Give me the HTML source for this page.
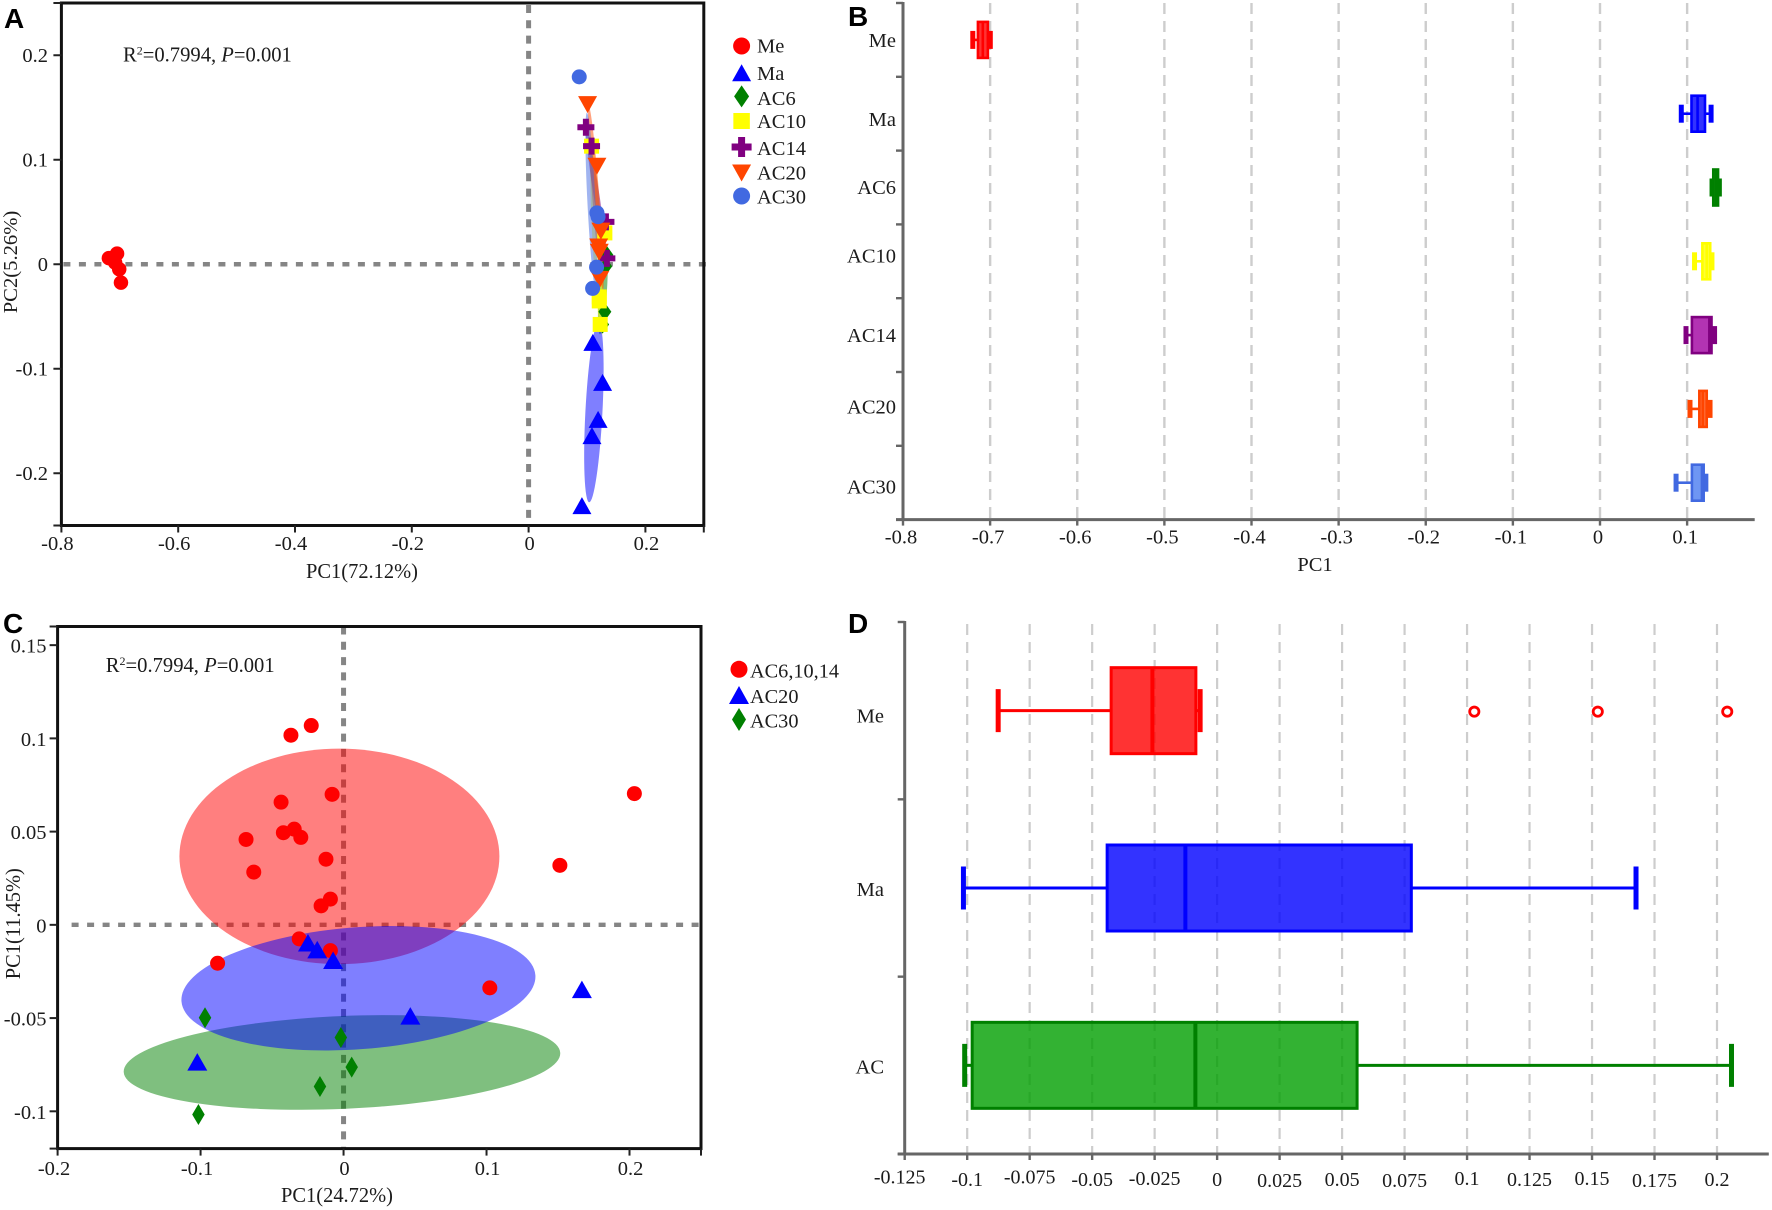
<!DOCTYPE html>
<html lang="en">
<head>
<meta charset="utf-8">
<title>PCoA and PC1 box plots</title>
<style>
html,body{margin:0;padding:0;background:#fff;width:1772px;height:1210px;overflow:hidden}
svg{display:block}
text{font-family:"Liberation Serif",serif;fill:#1c1c1c}
.panel-letter{font-family:"Liberation Sans",sans-serif;font-weight:700;font-size:28px;fill:#000}
</style>
</head>
<body>
<svg id="fig" xmlns="http://www.w3.org/2000/svg" width="1772" height="1210" viewBox="0 0 1772 1210">
<rect width="1772" height="1210" fill="#fff"/>
<text class="panel-letter" x="4" y="28">A</text>
<text class="panel-letter" x="848" y="26">B</text>
<text class="panel-letter" x="3" y="633">C</text>
<text class="panel-letter" x="848" y="633">D</text>
<g id="panelA"></g>
<g id="panelB"></g>
<g id="panelC"></g>
<g id="panelD"></g>
</svg>
<script>
// ---------- Panel A data ----------
const aXTicks = [-0.8, -0.6, -0.4, -0.2, 0, 0.2];
const aYTicks = [0.2, 0.1, 0, -0.1, -0.2];
const aGroups = ['Me', 'Ma', 'AC6', 'AC10', 'AC14', 'AC20', 'AC30'];
const aMeX = [-0.7187, -0.7047, -0.708, -0.701, -0.698];
const aMeY = [0.0059, 0.0102, 0.0015, -0.0048, -0.0176];
const aMaX = [0.110, 0.1267, 0.119, 0.1085, 0.0913];
const aMaY = [-0.0748, -0.113, -0.1485, -0.164, -0.231];
const aAC6X = [0.134, 0.132, 0.1306, 0.1267];
const aAC6Y = [0.009, -0.002, -0.0455, -0.0576];
const aAC10X = [0.1078, 0.1306, 0.121, 0.121, 0.1226];
const aAC10Y = [0.113, 0.030, -0.0313, -0.0351, -0.0576];
const aAC14X = [0.0981, 0.1078, 0.1324, 0.134];
const aAC14Y = [0.1311, 0.113, 0.0406, 0.0056];
const aAC20X = [0.101, 0.117, 0.1238, 0.12, 0.121, 0.122];
const aAC20Y = [0.1528, 0.0938, 0.0317, 0.0165, 0.0115, -0.0145];
const aAC30X = [0.0867, 0.117, 0.119, 0.1164, 0.1096];
const aAC30Y = [0.1793, 0.0492, 0.0455, -0.0028, -0.0231];
const aHullX = [0.1272, 0.117, 0.1161, 0.1152, 0.1075, 0.1118];
const aHullY = [-0.026, 0.0237, 0.0668, 0.0634, 0.0605, -0.1418];
const aHullLength = [0.0411, 0.0909, 0.065, 0.0878, 0.0847, 0.0861];
const aHullWidth = [0.0068, 0.0077, 0.005, 0.006, 0.0069, 0.0146];
const aHullTilt = [4, -3, -8.8, -4.4, -2.9, 3];
const aHullGroup = ['AC6', 'AC10', 'AC14', 'AC20', 'AC30', 'Ma'];

// ---------- Panel B data ----------
const bXTicks = [-0.8, -0.7, -0.6, -0.5, -0.4, -0.3, -0.2, -0.1, 0, 0.1];
const bGroups = ['Me', 'Ma', 'AC6', 'AC10', 'AC14', 'AC20', 'AC30'];
const bWhiskerLow = [-0.7199, 0.0933, 0.1286, 0.1085, 0.0987, 0.1033, 0.0873];
const bQ1 = [-0.714, 0.105, 0.130, 0.1175, 0.1055, 0.114, 0.1055];
const bMedian = [-0.7084, 0.112, 0.133, 0.1225, 0.1255, 0.118, 0.117];
const bQ3 = [-0.7026, 0.1205, 0.1355, 0.1265, 0.128, 0.1225, 0.119];
const bWhiskerHigh = [-0.6998, 0.1275, 0.137, 0.1285, 0.1315, 0.1263, 0.1215];

// ---------- Panel C data ----------
const cXTicks = [-0.2, -0.1, 0, 0.1, 0.2];
const cYTicks = [0.15, 0.1, 0.05, 0, -0.05, -0.1];
const cAC61014X = [-0.0226, -0.0368, -0.008, -0.0437, 0.2034, -0.0421, -0.0345, -0.0299, -0.0682, -0.0123, -0.0628, 0.1513, -0.0092, -0.0157, -0.031, -0.0881, -0.0092, 0.1023];
const cAC61014Y = [0.1069, 0.1017, 0.07, 0.0658, 0.0704, 0.0494, 0.0513, 0.0469, 0.0458, 0.0352, 0.0283, 0.0319, 0.0138, 0.0102, -0.0075, -0.0206, -0.0138, -0.0338];
const cAC20X = [-0.0249, -0.0184, -0.0073, 0.1667, 0.0467, -0.1023];
const cAC20Y = [-0.0096, -0.0133, -0.019, -0.0346, -0.0488, -0.0735];
const cAC30X = [-0.0969, -0.0019, 0.0057, -0.0165, -0.1015];
const cAC30Y = [-0.0498, -0.0604, -0.0763, -0.0867, -0.1017];
const cEllipseX = [-0.0011, -0.0029, 0.0104];
const cEllipseY = [-0.0738, 0.0367, -0.034];
const cEllipseRx = [0.1528, 0.1119, 0.1241];
const cEllipseRy = [0.0249, 0.0578, 0.0327];
const cEllipseTilt = [-2.5, 0, -4.25];

// ---------- Panel D data ----------
const dXTicks = [-0.125, -0.1, -0.075, -0.05, -0.025, 0, 0.025, 0.05, 0.075, 0.1, 0.125, 0.15, 0.175, 0.2];
const dGroups = ['Me', 'Ma', 'AC'];
const dWhiskerLow = [-0.0876, -0.1015, -0.101];
const dQ1 = [-0.0424, -0.044, -0.098];
const dMedian = [-0.0259, -0.0127, -0.0087];
const dQ3 = [-0.0085, 0.0777, 0.056];
const dWhiskerHigh = [-0.0068, 0.1676, 0.2058];
const dOutliersMe = [0.1029, 0.1523, 0.2041];

// ---------- Styling and layout (not data) ----------
const COLORS = {Me:'#ff0000', Ma:'#0000ff', AC6:'#008000', AC10:'#ffff00', AC14:'#800080', AC20:'#ff4500', AC30:'#4169e1', AC:'#008000'};
const FILLS = {Me:'#ff0000', Ma:'#0000ff', AC6:'#008000', AC10:'#ffff00', AC14:'#a000a0', AC20:'#ff4500', AC30:'#4a7cf0', AC:'#009f00'};
const NS = 'http://www.w3.org/2000/svg';
const AXIS_GRAY = '#666666';
const GRID_GRAY = '#cdcdcd';
const DASH_GRAY = '#858585';

function mk(parent, tag, attrs, text) {
  const el = document.createElementNS(NS, tag);
  for (const k in attrs) el.setAttribute(k, attrs[k]);
  if (text !== undefined) el.textContent = text;
  parent.appendChild(el);
  return el;
}
function scale(d0, d1, r0, r1) {
  return v => r0 + (v - d0) * (r1 - r0) / (d1 - d0);
}
function marker(parent, shape, cx, cy, s, color) {
  let el;
  if (shape === 'circle') {
    el = mk(parent, 'circle', {cx: cx, cy: cy, r: s.w / 2, fill: color});
  } else if (shape === 'triangle') {
    el = mk(parent, 'polygon', {points: [cx, cy - s.h / 2, cx + s.w / 2, cy + s.h / 2, cx - s.w / 2, cy + s.h / 2].join(' '), fill: color});
  } else if (shape === 'invtriangle') {
    el = mk(parent, 'polygon', {points: [cx - s.w / 2, cy - s.h / 2, cx + s.w / 2, cy - s.h / 2, cx, cy + s.h / 2].join(' '), fill: color});
  } else if (shape === 'diamond') {
    el = mk(parent, 'polygon', {points: [cx, cy - s.h / 2, cx + s.w / 2, cy, cx, cy + s.h / 2, cx - s.w / 2, cy].join(' '), fill: color});
  } else if (shape === 'square') {
    el = mk(parent, 'rect', {x: cx - s.w / 2, y: cy - s.h / 2, width: s.w, height: s.h, fill: color});
  } else {
    const a = s.w / 2, t = s.t / 2;
    el = mk(parent, 'polygon', {points: [cx - t, cy - a, cx + t, cy - a, cx + t, cy - t, cx + a, cy - t, cx + a, cy + t, cx + t, cy + t, cx + t, cy + a, cx - t, cy + a, cx - t, cy + t, cx - a, cy + t, cx - a, cy - t, cx - t, cy - t].join(' '), fill: color});
  }
  return el;
}
function drawBox(parent, group, x, yc, low, q1, med, q3, high, boxH, capH, sw, capW, medW) {
  const color = COLORS[group];
  const g = mk(parent, 'g', {});
  
  
  const w1 = mk(g, 'line', {x1: x(low), x2: x(q1), y1: yc, y2: yc, stroke: color, 'stroke-width': sw});
  
  
  const w2 = mk(g, 'line', {x1: x(q3), x2: x(high), y1: yc, y2: yc, stroke: color, 'stroke-width': sw});
  
  
  const c1 = mk(g, 'line', {x1: x(low), x2: x(low), y1: yc - capH / 2, y2: yc + capH / 2, stroke: color, 'stroke-width': capW});
  
  
  const c2 = mk(g, 'line', {x1: x(high), x2: x(high), y1: yc - capH / 2, y2: yc + capH / 2, stroke: color, 'stroke-width': capW});
  
  
  const r = mk(g, 'rect', {x: x(q1), y: yc - boxH / 2, width: x(q3) - x(q1), height: boxH, fill: FILLS[group], 'fill-opacity': 0.8, stroke: color, 'stroke-width': sw});
  
  
  const m = mk(g, 'line', {x1: x(med), x2: x(med), y1: yc - boxH / 2, y2: yc + boxH / 2, stroke: color, 'stroke-width': medW});
  
  
}

// ---------- Panel A ----------
(function () {
  const p = document.getElementById('panelA');
  const L = 61.4, R = 703.8, T = 3, B = 525.5;
  const x = scale(-0.8, 0.3, L, R), y = scale(-0.25, 0.25, B, T);

  const v0 = mk(p, 'line', {x1: x(0), x2: x(0), y1: T + 2, y2: B, stroke: DASH_GRAY, 'stroke-width': 5, 'stroke-dasharray': '8 7.3'});
  
  
  const h0 = mk(p, 'line', {x1: L + 2, x2: R + 4, y1: y(0), y2: y(0), stroke: DASH_GRAY, 'stroke-width': 4.4, 'stroke-dasharray': '7 8.5'});
  
  

  aHullGroup.forEach((name, i) => {
    const cx = x(aHullX[i]), cy = y(aHullY[i]);
    const e = mk(p, 'ellipse', {cx: cx, cy: cy,
      rx: (x(aHullWidth[i]) - x(0)), ry: (y(0) - y(aHullLength[i])),
      fill: COLORS[name], 'fill-opacity': 0.5,
      transform: 'rotate(' + aHullTilt[i] + ' ' + cx + ' ' + cy + ')'});
    
    
  });

  const frame = mk(p, 'rect', {x: L, y: T, width: R - L, height: B - T, fill: 'none', stroke: '#111', 'stroke-width': 3});
  
  

  [-0.8, -0.6, -0.4, -0.2, 0, 0.2, 0.3].forEach(v => {
    const t = mk(p, 'line', {x1: x(v), x2: x(v), y1: B, y2: B + 7, stroke: '#222', 'stroke-width': 2});
    
    
  });
  [0.25, 0.2, 0.1, 0, -0.1, -0.2, -0.25].forEach(v => {
    const t = mk(p, 'line', {x1: L - 8, x2: L, y1: y(v), y2: y(v), stroke: '#222', 'stroke-width': 2});
    
    
  });
  aXTicks.forEach(v => {
    const t = mk(p, 'text', {x: x(v) - (v < 0 ? 4 : -1), y: 550, 'text-anchor': 'middle', 'font-size': 20.5}, String(v));
    
    
  });
  aYTicks.forEach(v => {
    const t = mk(p, 'text', {x: 48, y: y(v) + 6.7, 'text-anchor': 'end', 'font-size': 20.5}, String(v));
    
    
  });

  const xt = mk(p, 'text', {x: 362, y: 578, 'text-anchor': 'middle', 'font-size': 21, textLength: 112, lengthAdjust: 'spacingAndGlyphs'}, 'PC1(72.12%)');
  
  
  const yt = mk(p, 'text', {transform: 'translate(17 262) rotate(-90)', 'text-anchor': 'middle', 'font-size': 20.5, textLength: 102.6, lengthAdjust: 'spacingAndGlyphs'}, 'PC2(5.26%)');
  
  

  const stat = mk(p, 'text', {x: 123, y: 61.7, 'font-size': 20.6});
  
  
  mk(stat, 'tspan', {}, 'R');
  mk(stat, 'tspan', {dy: -7, 'font-size': 12}, '2');
  mk(stat, 'tspan', {dy: 7}, '=0.7994, ');
  mk(stat, 'tspan', {'font-style': 'italic'}, 'P');
  mk(stat, 'tspan', {}, '=0.001');

  const shapes = {Me:'circle', Ma:'triangle', AC6:'diamond', AC10:'square', AC14:'plus', AC20:'invtriangle', AC30:'circle'};
  const sizes = {Me:{w:14.5,h:14.5}, Ma:{w:19,h:17}, AC6:{w:13,h:18}, AC10:{w:15,h:15}, AC14:{w:17,h:17,t:6}, AC20:{w:19,h:17}, AC30:{w:15,h:15}};
  const xs = {Me:aMeX, Ma:aMaX, AC6:aAC6X, AC10:aAC10X, AC14:aAC14X, AC20:aAC20X, AC30:aAC30X};
  const ys = {Me:aMeY, Ma:aMaY, AC6:aAC6Y, AC10:aAC10Y, AC14:aAC14Y, AC20:aAC20Y, AC30:aAC30Y};
  ['AC6', 'AC10', 'AC14', 'Ma', 'Me', 'AC20', 'AC30'].forEach(name => {
    xs[name].forEach((v, i) => {
      const m = marker(p, shapes[name], x(v), y(ys[name][i]), sizes[name], COLORS[name]);
      
      
    });
  });

  const legendRow = [46, 72.7, 96.4, 121, 147, 173, 196];
  const labelRow = [46, 73.5, 98.4, 121.3, 148.5, 173, 197];
  const lSizes = {Me:{w:17,h:17}, Ma:{w:19,h:17}, AC6:{w:15,h:22}, AC10:{w:16.5,h:16}, AC14:{w:20,h:20,t:7}, AC20:{w:19,h:17}, AC30:{w:17,h:17}};
  aGroups.forEach((name, i) => {
    const m = marker(p, shapes[name], 741.6, legendRow[i], lSizes[name], COLORS[name]);
    
    
    const t = mk(p, 'text', {x: 757, y: labelRow[i] + 6.5, 'font-size': 20.5}, name);
    
    
  });
})();

// ---------- Panel B ----------
(function () {
  const p = document.getElementById('panelB');
  const L = 903, R = 1754.7, T = 3, B = 519.6, band = (B - T) / 7;
  const x = scale(-0.8, 0, L, 1600);

  bXTicks.forEach(v => {
    if (v === -0.8) return;
    const g = mk(p, 'line', {x1: x(v), x2: x(v), y1: T, y2: B, stroke: GRID_GRAY, 'stroke-width': 2.4, 'stroke-dasharray': '11 7'});
    
    
  });

  const yAxis = mk(p, 'line', {x1: L, x2: L, y1: T - 1, y2: B + 1, stroke: AXIS_GRAY, 'stroke-width': 3});
  
  
  const xAxis = mk(p, 'line', {x1: L - 7, x2: R, y1: B, y2: B, stroke: AXIS_GRAY, 'stroke-width': 3});
  
  

  for (let i = 0; i <= 7; i++) {
    const t = mk(p, 'line', {x1: L - 7, x2: L, y1: T + i * band, y2: T + i * band, stroke: AXIS_GRAY, 'stroke-width': 2.4});
    
    
  }
  bXTicks.forEach(v => {
    const t = mk(p, 'line', {x1: x(v), x2: x(v), y1: B, y2: B + 6, stroke: AXIS_GRAY, 'stroke-width': 2.4});
    
    
    const l = mk(p, 'text', {x: x(v) - 2, y: 543.5, 'text-anchor': 'middle', 'font-size': 20.5}, String(v));
    
    
  });

  const nudge = [0.5, 6, 0, -5.5, 0.6, -2, 4.5];
  bGroups.forEach((name, i) => {
    const yc = T + (i + 0.5) * band;
    const l = mk(p, 'text', {x: 896, y: yc + nudge[i] + 6.5, 'text-anchor': 'end', 'font-size': 20.5}, name);
    
    
    drawBox(p, name, x, yc, bWhiskerLow[i], bQ1[i], bMedian[i], bQ3[i], bWhiskerHigh[i], 36, 18, 2.6, 5, 2.6);
  });

  const xt = mk(p, 'text', {x: 1315, y: 571, 'text-anchor': 'middle', 'font-size': 20.5}, 'PC1');
  
  
})();

// ---------- Panel C ----------
(function () {
  const p = document.getElementById('panelC');
  const L = 57.6, R = 701, T = 626.5, B = 1148.6;
  const x = scale(-0.2, 0.25, L, R), y = scale(-0.12, 0.16, B, T);

  const v0 = mk(p, 'line', {x1: x(0), x2: x(0), y1: T, y2: B, stroke: DASH_GRAY, 'stroke-width': 5, 'stroke-dasharray': '8 7.3'});
  
  
  const h0 = mk(p, 'line', {x1: L + 14, x2: R, y1: y(0), y2: y(0), stroke: DASH_GRAY, 'stroke-width': 4.4, 'stroke-dasharray': '7 8.5'});
  
  

  const ellipseGroup = ['AC30', 'AC6,10,14', 'AC20'];
  const ellipseColor = ['#008000', '#ff0000', '#0000ff'];
  ellipseGroup.forEach((name, i) => {
    const cx = x(cEllipseX[i]), cy = y(cEllipseY[i]);
    const e = mk(p, 'ellipse', {cx: cx, cy: cy,
      rx: x(cEllipseRx[i]) - x(0), ry: y(0) - y(cEllipseRy[i]),
      fill: ellipseColor[i], 'fill-opacity': 0.5,
      transform: 'rotate(' + cEllipseTilt[i] + ' ' + cx + ' ' + cy + ')'});
    
    
  });

  const frame = mk(p, 'rect', {x: L, y: T, width: R - L, height: B - T, fill: 'none', stroke: '#111', 'stroke-width': 3});
  
  

  [-0.2, -0.1, 0, 0.1, 0.2, 0.25].forEach(v => {
    const t = mk(p, 'line', {x1: x(v), x2: x(v), y1: B, y2: B + 7, stroke: '#222', 'stroke-width': 2});
    
    
  });
  [0.16, 0.15, 0.1, 0.05, 0, -0.05, -0.1, -0.12].forEach(v => {
    const t = mk(p, 'line', {x1: L - 8, x2: L, y1: y(v), y2: y(v), stroke: '#222', 'stroke-width': 2});
    
    
  });
  cXTicks.forEach(v => {
    const t = mk(p, 'text', {x: x(v) - (v < 0 ? 3.5 : -1), y: 1175, 'text-anchor': 'middle', 'font-size': 20.5}, String(v));
    
    
  });
  cYTicks.forEach(v => {
    const t = mk(p, 'text', {x: 46.5, y: y(v) + 7.5, 'text-anchor': 'end', 'font-size': 20.5}, String(v));
    
    
  });

  const xt = mk(p, 'text', {x: 337, y: 1202, 'text-anchor': 'middle', 'font-size': 21, textLength: 112, lengthAdjust: 'spacingAndGlyphs'}, 'PC1(24.72%)');
  
  
  const yt = mk(p, 'text', {transform: 'translate(20 923.7) rotate(-90)', 'text-anchor': 'middle', 'font-size': 21, textLength: 111, lengthAdjust: 'spacingAndGlyphs'}, 'PC1(11.45%)');
  
  

  const stat = mk(p, 'text', {x: 105.8, y: 672, 'font-size': 20.6});
  
  
  mk(stat, 'tspan', {}, 'R');
  mk(stat, 'tspan', {dy: -7, 'font-size': 12}, '2');
  mk(stat, 'tspan', {dy: 7}, '=0.7994, ');
  mk(stat, 'tspan', {'font-style': 'italic'}, 'P');
  mk(stat, 'tspan', {}, '=0.001');

  cAC61014X.forEach((v, i) => {
    const m = marker(p, 'circle', x(v), y(cAC61014Y[i]), {w: 15, h: 15}, '#ff0000');
    
    
  });
  cAC20X.forEach((v, i) => {
    const m = marker(p, 'triangle', x(v), y(cAC20Y[i]), {w: 20, h: 17.5}, '#0000ff');
    
    
  });
  cAC30X.forEach((v, i) => {
    const m = marker(p, 'diamond', x(v), y(cAC30Y[i]), {w: 12.5, h: 21}, '#008000');
    
    
  });

  const legendNames = ['AC6,10,14', 'AC20', 'AC30'];
  const legendShapes = ['circle', 'triangle', 'diamond'];
  const legendColors = ['#ff0000', '#0000ff', '#008000'];
  const legendSizes = [{w: 17, h: 17}, {w: 20, h: 18}, {w: 14, h: 23}];
  const legendRow = [669.3, 695, 719.5];
  legendNames.forEach((name, i) => {
    const m = marker(p, legendShapes[i], 739, legendRow[i], legendSizes[i], legendColors[i]);
    
    
    const t = mk(p, 'text', {x: 750, y: legendRow[i] + 8, 'font-size': 20.3}, name);
    
    
  });
})();

// ---------- Panel D ----------
(function () {
  const p = document.getElementById('panelD');
  const L = 904.7, R = 1768.8, T = 622, B = 1154, band = (B - T) / 3;
  const x = scale(-0.125, 0.2, L, 1717);

  dXTicks.forEach(v => {
    if (v === -0.125) return;
    const g = mk(p, 'line', {x1: x(v), x2: x(v), y1: T + 2, y2: B, stroke: GRID_GRAY, 'stroke-width': 2.2, 'stroke-dasharray': '11 7'});
    
    
  });

  const yAxis = mk(p, 'line', {x1: L, x2: L, y1: T - 1, y2: B + 1, stroke: AXIS_GRAY, 'stroke-width': 3});
  
  
  const xAxis = mk(p, 'line', {x1: L - 7, x2: R, y1: B, y2: B, stroke: AXIS_GRAY, 'stroke-width': 3});
  
  

  for (let i = 0; i <= 3; i++) {
    const t = mk(p, 'line', {x1: L - 7, x2: L, y1: T + i * band, y2: T + i * band, stroke: AXIS_GRAY, 'stroke-width': 2.4});
    
    
  }
  const labelNudge = [-2.3, 0, -2.3, 0, -1, 0, 0.8, 0, 0.8, -1, 0, -1, 0.8, 0];
  dXTicks.forEach((v, i) => {
    const t = mk(p, 'line', {x1: x(v), x2: x(v), y1: B, y2: B + 6, stroke: AXIS_GRAY, 'stroke-width': 2.4});
    
    
    const l = mk(p, 'text', {x: x(v) + (v === -0.125 ? -5 : 0), y: 1186 + labelNudge[i], 'text-anchor': 'middle', 'font-size': 20}, String(v));
    
    
  });

  const nudge = [5, 1, 1];
  dGroups.forEach((name, i) => {
    const yc = T + (i + 0.5) * band;
    const l = mk(p, 'text', {x: 884, y: yc + nudge[i] + 7, 'text-anchor': 'end', 'font-size': 20.5}, name);
    
    
    drawBox(p, name, x, yc, dWhiskerLow[i], dQ1[i], dMedian[i], dQ3[i], dWhiskerHigh[i], 86, 43, 3, 5, 4);
  });
  dOutliersMe.forEach(v => {
    const c = mk(p, 'circle', {cx: x(v), cy: T + 0.5 * band + 1, r: 4.6, fill: '#fff', stroke: '#ff0000', 'stroke-width': 2.8});
    
    
  });
})();
</script>
</body>
</html>
